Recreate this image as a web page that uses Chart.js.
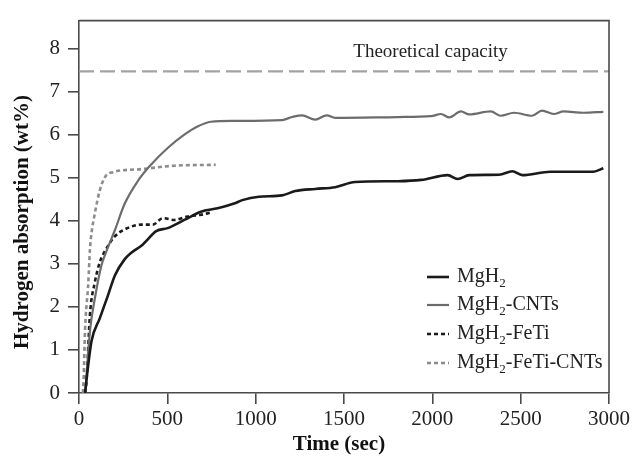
<!DOCTYPE html>
<html>
<head>
<meta charset="utf-8">
<script src="https://cdn.jsdelivr.net/npm/chart.js@4.4.0/dist/chart.umd.min.js"></script>
<style>
  html, body { margin: 0; padding: 0; background: #fff; }
  #wrap { width: 633px; height: 460px; }
</style>
</head>
<body>
<div id="wrap"><canvas id="absorptionChart"></canvas></div>
<script>
// Hydrogen absorption curves
const xTicks = [0, 500, 1000, 1500, 2000, 2500, 3000];
const yTicks = [0, 1, 2, 3, 4, 5, 6, 7, 8];
const theoreticalCapacity = 7.47;

const mgh2Time = [34, 53, 71, 118, 165, 203, 259, 296, 353, 371, 437, 502, 596, 690, 784, 878, 924, 1018, 1149, 1224, 1337, 1450, 1562, 1806, 1937, 2087, 2143, 2209, 2378, 2453, 2509, 2668, 2912, 2968];
const mgh2Wt = [0, 0.68, 1.21, 1.74, 2.28, 2.73, 3.11, 3.26, 3.42, 3.49, 3.76, 3.83, 4.02, 4.21, 4.29, 4.40, 4.48, 4.56, 4.59, 4.69, 4.74, 4.78, 4.90, 4.92, 4.95, 5.06, 4.97, 5.06, 5.07, 5.15, 5.06, 5.14, 5.14, 5.22];

const cntTime = [36, 62, 90, 127, 156, 203, 259, 334, 409, 502, 596, 671, 746, 878, 1149, 1206, 1262, 1337, 1402, 1450, 1806, 1993, 2049, 2096, 2162, 2209, 2331, 2387, 2462, 2565, 2621, 2687, 2743, 2856, 2968];
const cntWt = [0, 1.44, 2.2, 2.96, 3.3, 3.78, 4.40, 4.93, 5.31, 5.69, 6.0, 6.19, 6.30, 6.32, 6.34, 6.41, 6.45, 6.35, 6.45, 6.39, 6.41, 6.43, 6.48, 6.40, 6.54, 6.47, 6.54, 6.44, 6.51, 6.44, 6.56, 6.48, 6.54, 6.51, 6.53];

const fetiTime = [36, 43, 62, 90, 118, 156, 203, 259, 353, 418, 474, 540, 615, 690, 746];
const fetiWt = [0, 0.3, 1.82, 2.58, 3.04, 3.36, 3.64, 3.80, 3.91, 3.91, 4.06, 4.02, 4.10, 4.14, 4.19];

const fetiCntTime = [22, 26, 34, 53, 62, 71, 90, 118, 146, 193, 353, 540, 774];
const fetiCntWt = [0, 0.3, 1.44, 2.58, 3.34, 3.72, 4.18, 4.71, 5.01, 5.13, 5.20, 5.28, 5.30];

const seriesLabels = ['MgH2', 'MgH2-CNTs', 'MgH2-FeTi', 'MgH2-FeTi-CNTs'];

function toPoints(xs, ys) {
    return xs.map((x, i) => ({ x: x, y: ys[i] }));
}

const SERIF = "'Liberation Serif', 'Times New Roman', serif";
const AXIS_COLOR = '#4a4a4a';

// frame, axis titles, capacity note and legend with subscripts
const figurePlugin = {
    id: 'figureDecor',
    afterDraw(chart) {
        const ctx = chart.ctx;
        const area = chart.chartArea;
        const xs = chart.scales.x;
        const ys = chart.scales.y;
        ctx.save();

        // top and right edges of the box
        ctx.strokeStyle = AXIS_COLOR;
        ctx.lineWidth = 1.6;
        ctx.beginPath();
        ctx.moveTo(area.left, area.top);
        ctx.lineTo(area.right, area.top);
        ctx.lineTo(area.right, area.bottom);
        ctx.stroke();

        // axis titles
        ctx.fillStyle = '#111';
        ctx.font = 'bold 21px ' + SERIF;
        ctx.textAlign = 'center';
        ctx.textBaseline = 'middle';
        ctx.fillText('Time (sec)', 339, 445);
        ctx.save();
        ctx.translate(23, 222);
        ctx.rotate(-Math.PI / 2);
        ctx.fillText('Hydrogen absorption (wt%)', 0, 0);
        ctx.restore();

        // theoretical capacity note
        ctx.font = '19px ' + SERIF;
        ctx.fillStyle = '#222';
        ctx.fillText('Theoretical capacity', xs.getPixelForValue(1990), ys.getPixelForValue(theoreticalCapacity) - 19);

        // legend
        const lx = 427, tx = 457;
        const rowY = [277, 305, 334, 363];
        chart.data.datasets.forEach((ds, i) => {
            if (i >= seriesLabels.length) return;
            const y = rowY[i];
            ctx.strokeStyle = ds.borderColor;
            ctx.lineWidth = ds.borderWidth;
            ctx.setLineDash(ds.borderDash || []);
            ctx.beginPath();
            ctx.moveTo(lx, y);
            ctx.lineTo(lx + 22, y);
            ctx.stroke();
            ctx.setLineDash([]);

            const parts = ds.label.split('2');
            ctx.fillStyle = '#222';
            ctx.textAlign = 'left';
            ctx.textBaseline = 'middle';
            ctx.font = '20px ' + SERIF;
            let x = tx;
            ctx.fillText(parts[0], x, y);
            x += ctx.measureText(parts[0]).width;
            ctx.font = '13px ' + SERIF;
            ctx.fillText('2', x, y + 7);
            x += ctx.measureText('2').width;
            ctx.font = '20px ' + SERIF;
            ctx.fillText(parts[1], x, y);
        });
        ctx.restore();
    }
};

new Chart(document.getElementById('absorptionChart'), {
    type: 'line',
    data: {
        datasets: [
            {
                label: seriesLabels[0],
                data: toPoints(mgh2Time, mgh2Wt),
                borderColor: '#1a1a1a',
                borderWidth: 2.6
            },
            {
                label: seriesLabels[1],
                data: toPoints(cntTime, cntWt),
                borderColor: '#6c6c6c',
                borderWidth: 2.2
            },
            {
                label: seriesLabels[2],
                data: toPoints(fetiTime, fetiWt),
                borderColor: '#1a1a1a',
                borderWidth: 2.6,
                borderDash: [4, 3]
            },
            {
                label: seriesLabels[3],
                data: toPoints(fetiCntTime, fetiCntWt),
                borderColor: '#8c8c8c',
                borderWidth: 2.6,
                borderDash: [4, 3]
            },
            {
                label: 'Theoretical capacity',
                data: toPoints([xTicks[0], xTicks[xTicks.length - 1]], [theoreticalCapacity, theoreticalCapacity]),
                borderColor: '#a3a3a3',
                borderWidth: 2.2,
                borderDash: [15, 6]
            }
        ]
    },
    options: {
        responsive: true,
        maintainAspectRatio: false,
        animation: false,
        layout: { padding: { top: 14, right: 19, left: 0, bottom: 0 } },
        elements: {
            point: { radius: 0 },
            line: { tension: 0, cubicInterpolationMode: 'monotone', fill: false }
        },
        plugins: {
            legend: { display: false },
            tooltip: { enabled: false }
        },
        scales: {
            x: {
                type: 'linear',
                min: xTicks[0],
                max: xTicks[xTicks.length - 1],
                afterBuildTicks: axis => { axis.ticks = xTicks.map(v => ({ value: v })); },
                afterFit: scale => { scale.height = 67; },
                grid: { drawOnChartArea: false, drawTicks: true, tickLength: 11, color: AXIS_COLOR, lineWidth: 1.6 },
                border: { display: true, color: AXIS_COLOR, width: 1.6 },
                ticks: {
                    color: '#222',
                    font: { family: SERIF, size: 21 },
                    padding: 3,
                    maxRotation: 0,
                    callback: v => String(v)
                }
            },
            y: {
                min: 0,
                max: 8.65,
                afterBuildTicks: axis => { axis.ticks = yTicks.map(v => ({ value: v })); },
                afterFit: scale => { scale.width = 79; },
                grid: { drawOnChartArea: false, drawTicks: true, tickLength: 11, color: AXIS_COLOR, lineWidth: 1.6 },
                border: { display: true, color: AXIS_COLOR, width: 1.6 },
                ticks: { color: '#222', font: { family: SERIF, size: 21 }, padding: 8, callback: v => String(v) }
            }
        }
    },
    plugins: [figurePlugin]
});
</script>
</body>
</html>
